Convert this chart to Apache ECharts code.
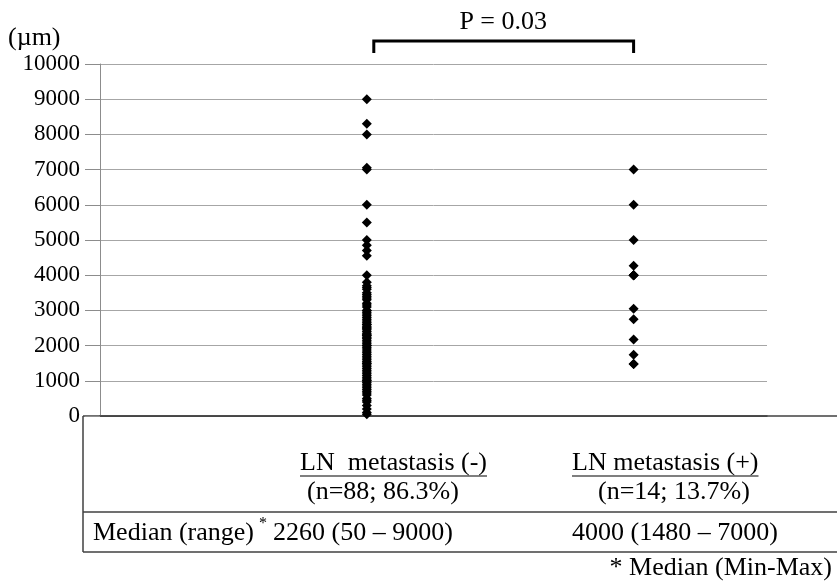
<!DOCTYPE html>
<html><head><meta charset="utf-8">
<script src="https://cdn.jsdelivr.net/npm/echarts@6/dist/echarts.min.js"></script>
<style>html,body{margin:0;padding:0;background:#fff}#c{width:837px;height:584px}</style>
</head><body><div id="c"></div>
<script>
// ---- data ----
const groupX = [2, 4];
const lnNegValues = [
  9000, 8300, 8000, 7050, 7000, 6000, 5500, 5000, 4850, 4700, 4550, 4000,
  3800, 3700, 3650, 3600, 3500, 3450, 3400, 3350, 3300, 3200, 3150, 3100,
  3000, 3000, 2950, 2900, 2850, 2800, 2750, 2700, 2650, 2600, 2600, 2550,
  2500, 2500, 2450, 2400, 2350, 2300, 2300, 2280,
  2240, 2200, 2150, 2100, 2050, 2000, 2000, 1950, 1900, 1850, 1800, 1750,
  1700, 1650, 1600, 1550, 1500, 1500, 1450, 1400, 1350, 1300, 1250, 1200,
  1150, 1100, 1050, 1000, 1000, 950, 900, 850, 800, 750, 700, 650,
  600, 500, 450, 400, 300, 200, 100, 50
];
const lnPosValues = [7000, 6000, 5000, 4270, 4000, 4000, 4000, 4000, 3050, 2750, 2170, 1740, 1480, 1480];
const yTickLabels = ['0','1000','2000','3000','4000','5000','6000','7000','8000','9000','10000'];
const unitLabel = '(\u00b5m)';
const pLabel = 'P = 0.03';
const groupNames = ['LN  metastasis (-)', 'LN metastasis (+)'];
const groupCounts = ['(n=88; 86.3%)', '(n=14; 13.7%)'];
const rowLabel = 'Median (range)';
const groupMedians = ['2260 (50 \u2013 9000)', '4000 (1480 \u2013 7000)'];
const footnote = '* Median (Min-Max)';

// ---- chart ----
const FAMILY = 'Liberation Serif';
const chart = echarts.init(document.getElementById('c'), null, {renderer: 'canvas'});
const option = {
  animation: false,
  backgroundColor: '#fff',
  grid: {left: 100, right: 70, top: 64, bottom: 168, containLabel: false, outerBoundsMode: 'none'},
  xAxis: {
    type: 'value', min: 0, max: 5, interval: 1,
    axisLine: {show: true, lineStyle: {color: '#404040', width: 1.5}},
    axisTick: {show: false}, axisLabel: {show: false}, splitLine: {show: false}
  },
  yAxis: {
    type: 'value', min: 0, max: 10000, interval: 1000,
    axisLine: {show: true, lineStyle: {color: '#8c8c8c', width: 1}},
    axisTick: {show: true, length: 15, lineStyle: {color: '#8c8c8c'}},
    axisLabel: {
      margin: 20, color: '#000', fontSize: 23, fontFamily: FAMILY,
      formatter: (v) => yTickLabels[Math.round(v / 1000)]
    },
    splitLine: {show: true, lineStyle: {color: '#a6a6a6', width: 1}}
  },
  series: [
    {type: 'scatter', symbol: 'diamond', symbolSize: 10, itemStyle: {color: '#000', opacity: 1},
     data: lnNegValues.map(v => [groupX[0], v])},
    {type: 'scatter', symbol: 'diamond', symbolSize: 10, itemStyle: {color: '#000', opacity: 1},
     data: lnPosValues.map(v => [groupX[1], v])}
  ]
};
chart.setOption(option);

const mctx = document.createElement('canvas').getContext('2d');
function textW(t, size) { mctx.font = size + 'px ' + FAMILY; return mctx.measureText(t).width; }

const g1 = chart.convertToPixel({gridIndex: 0}, [groupX[0], 10000]);
const g2 = chart.convertToPixel({gridIndex: 0}, [groupX[1], 0]);
const yZero = g2[1];
const right = 837;
const tblLeft = 83;
const lineColor = '#404040';

function txt(t, x, y, size, align) {
  return {type: 'text', silent: true, style: {text: t, x: x, y: y, fontSize: size, fontFamily: FAMILY, fill: '#000', textAlign: align || 'left', textVerticalAlign: 'middle'}};
}
function ln(x1, y1, x2, y2, w) {
  return {type: 'line', silent: true, shape: {x1, y1, x2, y2}, style: {stroke: lineColor, lineWidth: w || 1.5}};
}

const graphics = [];
graphics.push(txt(unitLabel, 8, 38, 26));
graphics.push({type: 'polyline', silent: true,
  shape: {points: [[g1[0] + 7, 53], [g1[0] + 7, 41], [g2[0], 41], [g2[0], 53]]},
  style: {stroke: '#000', lineWidth: 3, fill: null}});
graphics.push(txt(pLabel, (g1[0] + g2[0]) / 2 + 3, 22, 26, 'center'));

graphics.push(ln(tblLeft, yZero, right, yZero));
graphics.push(ln(tblLeft, yZero, tblLeft, 552, 1.5));
graphics.push(ln(tblLeft, 512, right, 512));
graphics.push(ln(tblLeft, 552, right, 552));

const nameX = [300, 572];
const countX = [307, 598];
const medX = [273, 572];
for (let i = 0; i < 2; i++) {
  graphics.push(txt(groupNames[i], nameX[i], 463, 26));
  const w = textW(groupNames[i], 26);
  graphics.push({type: 'line', silent: true, shape: {x1: nameX[i], y1: 476, x2: nameX[i] + w, y2: 476}, style: {stroke: '#000', lineWidth: 1.2}});
  graphics.push(txt(groupCounts[i], countX[i], 492, 26));
  graphics.push(txt(groupMedians[i], medX[i], 533, 26));
}
graphics.push(txt(rowLabel, 93, 533, 26));
graphics.push(txt('*', 259, 524, 16));
graphics.push(txt(footnote, 832, 568, 26, 'right'));

chart.setOption({graphic: {elements: graphics}});
</script>
</body></html>
